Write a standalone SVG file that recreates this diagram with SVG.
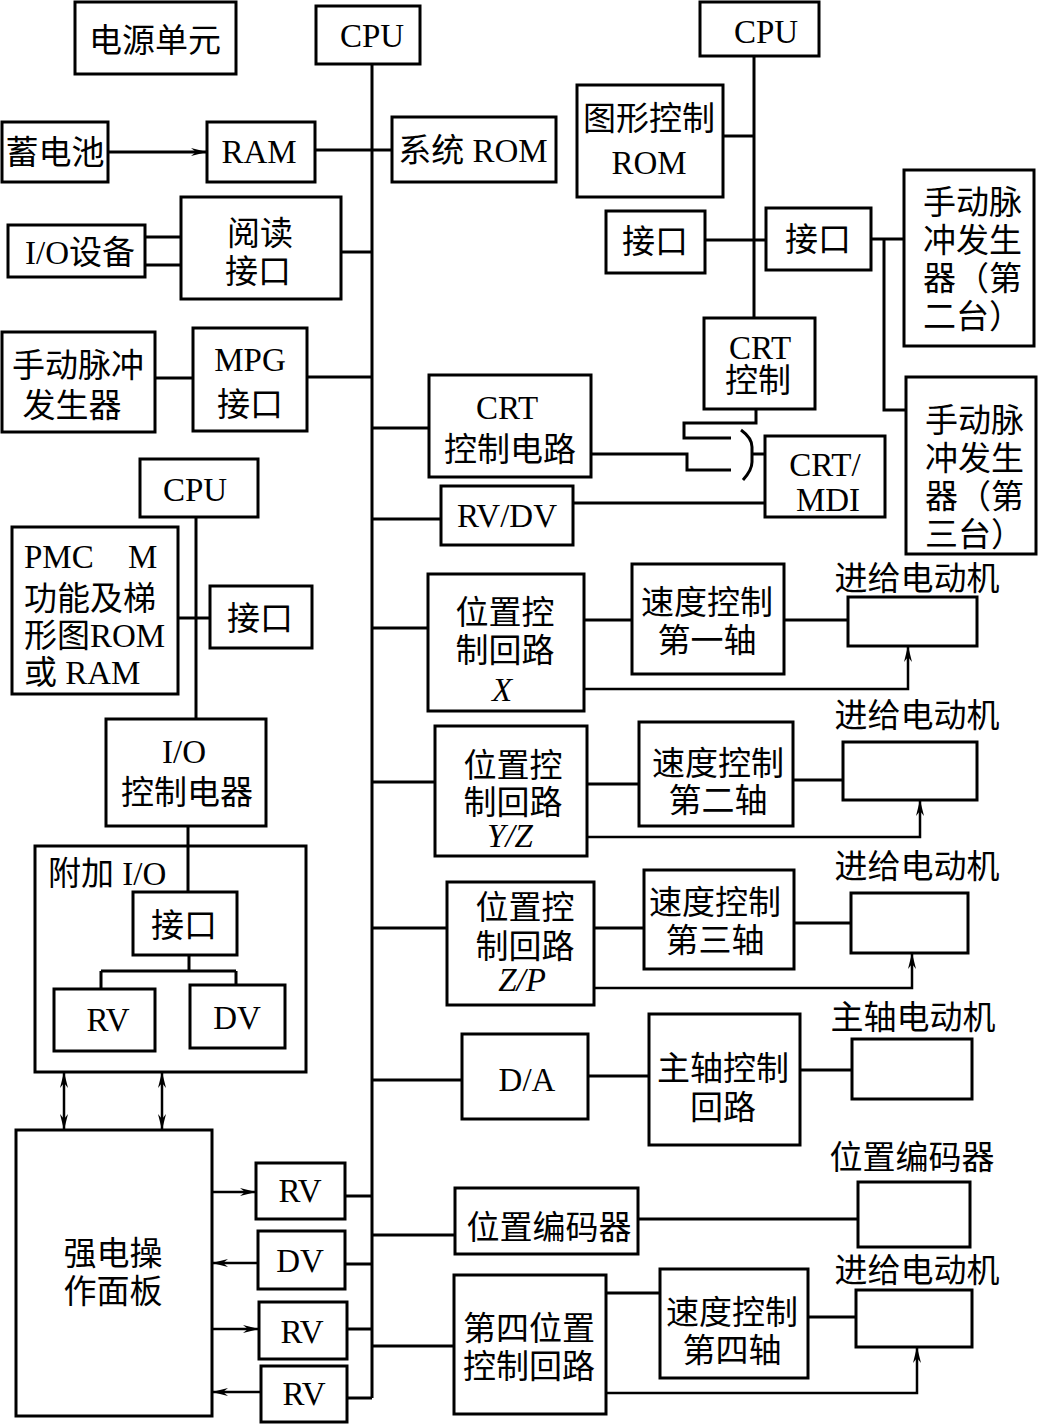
<svg xmlns="http://www.w3.org/2000/svg" width="1038" height="1424" viewBox="0 0 1038 1424">
<style>
.b{fill:none;stroke:#000;stroke-width:3}
.l{fill:none;stroke:#000;stroke-width:3}
.f{fill:none;stroke:#000;stroke-width:2.5}
text{font-family:"Liberation Serif","Noto Sans CJK SC",serif;font-size:33px;fill:#000;text-anchor:middle}
.s{text-anchor:start}
.i{font-style:italic}
</style>
<defs>
<marker id="a" markerUnits="userSpaceOnUse" markerWidth="18" markerHeight="10" refX="16" refY="5" orient="auto-start-reverse"><path d="M0,1 L16,5 L0,9 L5,5 z" fill="#000"/></marker>
</defs>
<rect width="1038" height="1424" fill="#fff"/>

<g id="connectors">
<path class="l" d="M372,64 V1398"/>
<path class="l" d="M108,152 H207" marker-end="url(#a)"/>
<path class="l" d="M315,150 H392"/>
<path class="l" d="M341,252 H372"/>
<path class="l" d="M145,237 H181 M145,265 H181"/>
<path class="l" d="M155,378 H193"/>
<path class="l" d="M307,377 H372"/>
<path class="l" d="M196,517 V719"/>
<path class="l" d="M178,618 H210"/>
<path class="l" d="M188,826 V892"/>
<path class="l" d="M189,955 V971 M101,971 H236 M101,971 V989 M236,971 V985"/>
<path class="f" d="M64,1072 V1130" marker-start="url(#a)" marker-end="url(#a)"/>
<path class="f" d="M162,1072 V1130" marker-start="url(#a)" marker-end="url(#a)"/>
<path class="f" d="M212,1192 H256" marker-end="url(#a)"/>
<path class="f" d="M258,1263 H212" marker-end="url(#a)"/>
<path class="f" d="M212,1329 H259" marker-end="url(#a)"/>
<path class="f" d="M261,1392 H212" marker-end="url(#a)"/>
<path class="l" d="M345,1196 H372 M345,1264 H372 M347,1329 H372 M347,1398 H372"/>
<path class="l" d="M372,428 H429"/>
<path class="l" d="M372,519 H441"/>
<path class="l" d="M573,503 H765"/>
<path class="l" d="M372,628 H428"/>
<path class="l" d="M584,620 H632 M784,620 H848"/>
<path class="f" d="M584,689 H908 V646" marker-end="url(#a)"/>
<path class="l" d="M372,782 H435"/>
<path class="l" d="M587,784 H639 M793,780 H843"/>
<path class="f" d="M587,837 H920 V800" marker-end="url(#a)"/>
<path class="l" d="M372,928 H447"/>
<path class="l" d="M594,928 H644 M794,923 H851"/>
<path class="f" d="M594,988 H912 V953" marker-end="url(#a)"/>
<path class="l" d="M372,1080 H462"/>
<path class="l" d="M588,1076 H649 M800,1070 H852"/>
<path class="l" d="M372,1235 H455"/>
<path class="l" d="M638,1219 H858"/>
<path class="l" d="M372,1346 H454"/>
<path class="l" d="M606,1293 H660 M808,1317 H856"/>
<path class="f" d="M606,1393 H917 V1347" marker-end="url(#a)"/>
<path class="l" d="M754,56 V318"/>
<path class="l" d="M723,136 H754"/>
<path class="l" d="M705,240 H766"/>
<path class="l" d="M871,239 H904 M884,239 V410 H906"/>
<path class="l" d="M756,409 V423 H684 V438 H731"/>
<path class="l" d="M591,454 H687 V470 H731"/>
<path class="l" d="M741,430 Q752,438 752,447 V462 Q752,470 743,480"/>
<path class="l" d="M752,454 H765"/>
</g>

<g id="power"><rect class="b" x="75" y="2" width="161" height="72"/><text x="155" y="52">电源单元</text></g>
<g id="cpu-main"><rect class="b" x="316" y="6" width="104" height="58"/><text x="372" y="47">CPU</text></g>
<g id="battery"><rect class="b" x="2" y="122" width="106" height="60"/><text x="55" y="164">蓄电池</text></g>
<g id="ram"><rect class="b" x="207" y="122" width="108" height="60"/><text x="259" y="163">RAM</text></g>
<g id="sysrom"><rect class="b" x="392" y="117" width="164" height="65"/><text x="473" y="162">系统 ROM</text></g>
<g id="reader"><rect class="b" x="181" y="197" width="160" height="102"/><text x="260" y="245">阅读</text><text x="258" y="283">接口</text></g>
<g id="iodev"><rect class="b" x="8" y="225" width="137" height="52"/><text x="80" y="264">I/O设备</text></g>
<g id="mpg-gen"><rect class="b" x="2" y="332" width="153" height="100"/><text x="78" y="377">手动脉冲</text><text x="72" y="417">发生器</text></g>
<g id="mpg-if"><rect class="b" x="193" y="328" width="114" height="103"/><text x="250" y="371">MPG</text><text x="250" y="416">接口</text></g>
<g id="cpu-pmc"><rect class="b" x="140" y="459" width="118" height="58"/><text x="195" y="501">CPU</text></g>
<g id="pmc"><rect class="b" x="12" y="527" width="166" height="167"/><text class="s" x="24" y="568">PMC<tspan x="128">M</tspan></text><text class="s" x="24" y="610">功能及梯</text><text class="s" x="24" y="647">形图ROM</text><text class="s" x="24" y="684">或 RAM</text></g>
<g id="pmc-if"><rect class="b" x="210" y="586" width="102" height="62"/><text x="260" y="630">接口</text></g>
<g id="io-relay"><rect class="b" x="106" y="719" width="160" height="107"/><text x="184" y="763">I/O</text><text x="187" y="804">控制电器</text></g>
<g id="extra-io"><rect class="b" x="35" y="846" width="271" height="226"/><text class="s" x="48" y="885">附加 I/O</text>
<rect class="b" x="133" y="892" width="104" height="63"/><text x="184" y="937">接口</text>
<rect class="b" x="54" y="989" width="101" height="62"/><text x="108" y="1031">RV</text>
<rect class="b" x="190" y="985" width="95" height="63"/><text x="237" y="1029">DV</text></g>
<g id="panel"><rect class="b" x="16" y="1130" width="196" height="286"/><text x="113" y="1265">强电操</text><text x="113" y="1303">作面板</text></g>
<g id="rv1"><rect class="b" x="256" y="1163" width="89" height="56"/><text x="300" y="1202">RV</text></g>
<g id="dv1"><rect class="b" x="258" y="1231" width="87" height="58"/><text x="300" y="1272">DV</text></g>
<g id="rv2"><rect class="b" x="259" y="1302" width="88" height="57"/><text x="302" y="1343">RV</text></g>
<g id="rv3"><rect class="b" x="261" y="1366" width="86" height="56"/><text x="304" y="1405">RV</text></g>

<g id="crt-circuit"><rect class="b" x="429" y="375" width="162" height="102"/><text x="507" y="419">CRT</text><text x="510" y="461">控制电路</text></g>
<g id="rvdv"><rect class="b" x="441" y="486" width="132" height="59"/><text x="507" y="527">RV/DV</text></g>
<g id="pos-x"><rect class="b" x="428" y="574" width="156" height="137"/><text x="505" y="624">位置控</text><text x="505" y="662">制回路</text><text class="i" x="502" y="701">X</text></g>
<g id="spd-1"><rect class="b" x="632" y="564" width="152" height="110"/><text x="707" y="614">速度控制</text><text x="707" y="652">第一轴</text></g>
<g id="motor-1"><text x="917" y="590">进给电动机</text><rect class="b" x="848" y="597" width="129" height="49"/></g>
<g id="pos-yz"><rect class="b" x="435" y="726" width="152" height="130"/><text x="513" y="777">位置控</text><text x="513" y="814">制回路</text><text class="i" x="510" y="847">Y/Z</text></g>
<g id="spd-2"><rect class="b" x="639" y="722" width="154" height="104"/><text x="718" y="775">速度控制</text><text x="718" y="812">第二轴</text></g>
<g id="motor-2"><text x="917" y="727">进给电动机</text><rect class="b" x="843" y="742" width="134" height="58"/></g>
<g id="pos-zp"><rect class="b" x="447" y="882" width="147" height="123"/><text x="525" y="919">位置控</text><text x="525" y="958">制回路</text><text class="i" x="522" y="991">Z/P</text></g>
<g id="spd-3"><rect class="b" x="644" y="870" width="150" height="99"/><text x="715" y="914">速度控制</text><text x="715" y="952">第三轴</text></g>
<g id="motor-3"><text x="917" y="878">进给电动机</text><rect class="b" x="851" y="893" width="117" height="60"/></g>
<g id="da"><rect class="b" x="462" y="1034" width="126" height="85"/><text x="527" y="1091">D/A</text></g>
<g id="spindle-ctrl"><rect class="b" x="649" y="1014" width="151" height="131"/><text x="723" y="1080">主轴控制</text><text x="723" y="1119">回路</text></g>
<g id="spindle-motor"><text x="913" y="1029">主轴电动机</text><rect class="b" x="852" y="1039" width="120" height="60"/></g>
<g id="encoder-if"><rect class="b" x="455" y="1188" width="183" height="66"/><text x="549" y="1239">位置编码器</text></g>
<g id="encoder"><text x="912" y="1169">位置编码器</text><rect class="b" x="858" y="1182" width="112" height="65"/></g>
<g id="pos-4"><rect class="b" x="454" y="1275" width="152" height="139"/><text x="529" y="1340">第四位置</text><text x="529" y="1378">控制回路</text></g>
<g id="spd-4"><rect class="b" x="660" y="1269" width="148" height="109"/><text x="732" y="1324">速度控制</text><text x="732" y="1362">第四轴</text></g>
<g id="motor-4"><text x="917" y="1282">进给电动机</text><rect class="b" x="856" y="1290" width="116" height="57"/></g>

<g id="cpu-crt"><rect class="b" x="700" y="2" width="119" height="54"/><text x="766" y="43">CPU</text></g>
<g id="graph-rom"><rect class="b" x="577" y="85" width="146" height="112"/><text x="649" y="130">图形控制</text><text x="649" y="174">ROM</text></g>
<g id="if-left"><rect class="b" x="606" y="211" width="99" height="62"/><text x="655" y="253">接口</text></g>
<g id="if-right"><rect class="b" x="766" y="208" width="105" height="62"/><text x="818" y="251">接口</text></g>
<g id="mpg2"><rect class="b" x="904" y="170" width="130" height="176"/><text class="s" x="923" y="214">手动脉</text><text class="s" x="923" y="252">冲发生</text><text class="s" x="923" y="290">器（第</text><text class="s" x="923" y="328">二台）</text></g>
<g id="mpg3"><rect class="b" x="906" y="377" width="130" height="177"/><text class="s" x="925" y="432">手动脉</text><text class="s" x="925" y="470">冲发生</text><text class="s" x="925" y="508">器（第</text><text class="s" x="925" y="546">三台）</text></g>
<g id="crt-ctrl"><rect class="b" x="704" y="318" width="111" height="91"/><text x="760" y="359">CRT</text><text x="758" y="392">控制</text></g>
<g id="crt-mdi"><rect class="b" x="765" y="436" width="120" height="81"/><text x="825" y="476">CRT/</text><text x="828" y="511">MDI</text></g>
</svg>
